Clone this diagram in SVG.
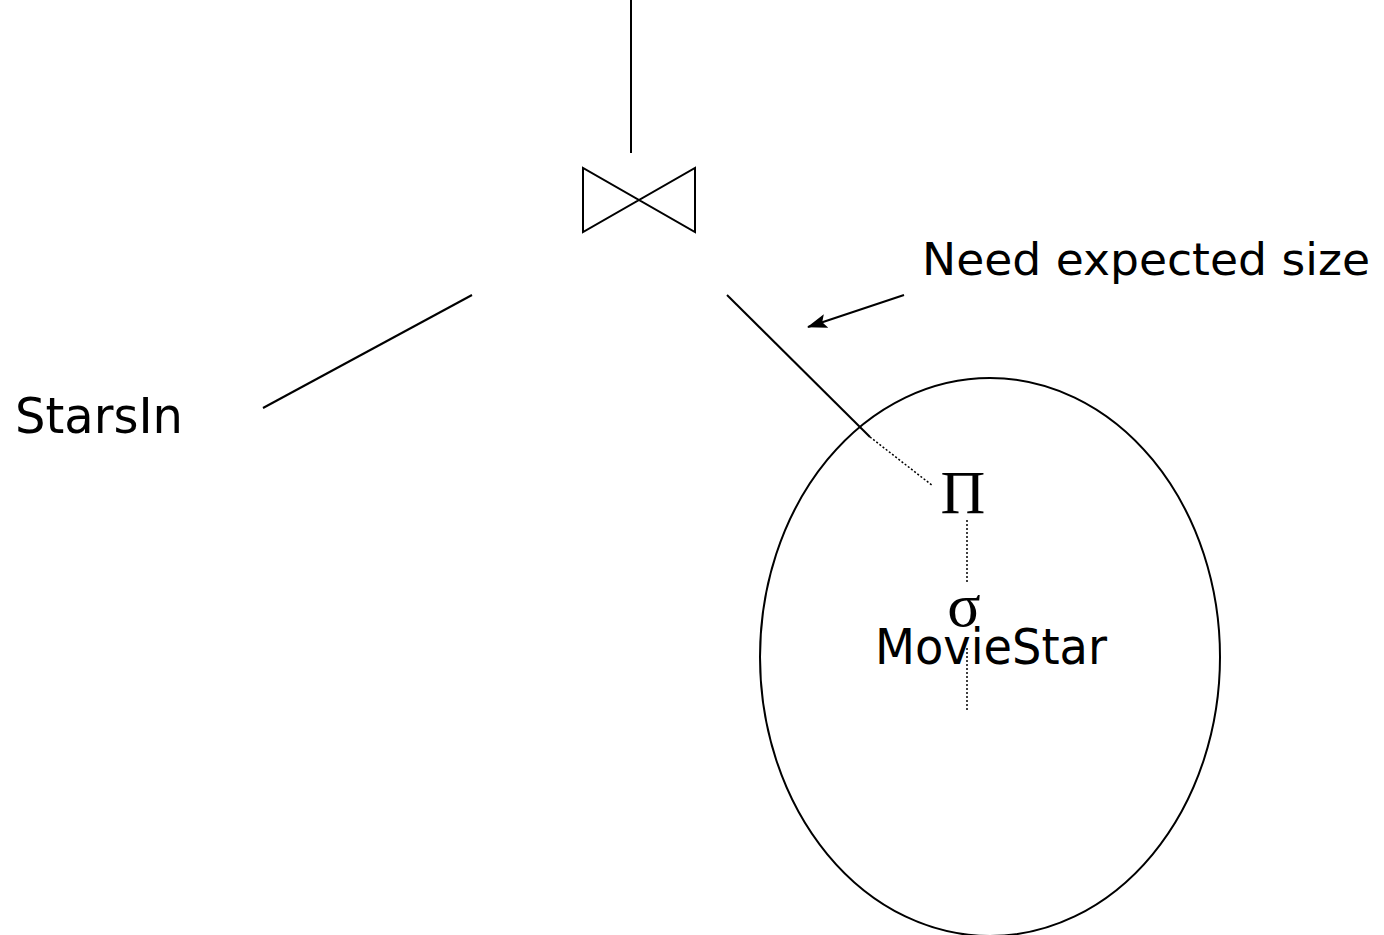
<svg xmlns="http://www.w3.org/2000/svg" width="1384" height="935" viewBox="0 0 1384 935">
<defs>
<style>
.l{stroke:#000;stroke-width:2;fill:none}
.d{stroke:#000;stroke-width:1.5;fill:none;stroke-dasharray:2 2}
.t{font-family:"DejaVu Sans","Liberation Sans",Arial,sans-serif;font-size:49px;fill:#000}
.g{font-family:"Liberation Serif","Times New Roman",serif;fill:#000}
</style>
<marker id="ah" markerWidth="20" markerHeight="14" refX="19" refY="7" orient="auto" markerUnits="userSpaceOnUse" viewBox="0 0 20 14">
<path d="M0,0 L20,7 L0,14 L4,7 Z" fill="#000"/>
</marker>
</defs>
<rect width="1384" height="935" fill="#fff"/>
<g id="connectors">
<line class="l" x1="631" y1="0" x2="631" y2="153"/>
<line class="l" x1="472" y1="295" x2="263" y2="408"/>
<line class="l" x1="727" y1="295" x2="870" y2="437"/>
<line class="d" x1="870" y1="437" x2="933" y2="486"/>
<line class="d" x1="967" y1="520" x2="967" y2="582"/>
<line class="d" x1="967" y1="648" x2="967" y2="710"/>
<line class="l" x1="904" y1="295" x2="808" y2="327" marker-end="url(#ah)"/>
</g>
<g id="join">
<path class="l" d="M583,168 L583,232 L695,168 L695,232 Z"/>
</g>
<g id="starsin"><text class="t" x="15" y="433" textLength="168" lengthAdjust="spacingAndGlyphs">StarsIn</text></g>
<g id="note"><text class="t" x="922" y="275" font-size="45" style="font-size:45px" textLength="448" lengthAdjust="spacingAndGlyphs">Need expected size</text></g>
<g id="subtree">
<ellipse class="l" cx="990" cy="657" rx="230" ry="279"/>
<text class="g" x="963" y="513" font-size="62" text-anchor="middle">Π</text>
<text class="g" x="964" y="626" font-size="62" text-anchor="middle">σ</text>
<text class="t" x="875" y="664" textLength="232" lengthAdjust="spacingAndGlyphs">MovieStar</text>
</g>
</svg>
